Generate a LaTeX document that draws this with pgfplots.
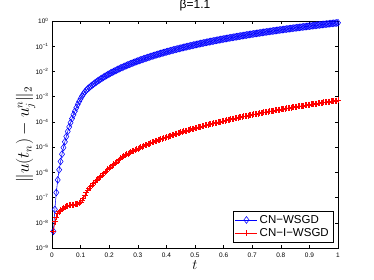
\documentclass[border=0pt]{standalone}
\usepackage{fontspec}
\setmainfont{Liberation Sans}
\usepackage{pgfplots}
\pgfplotsset{compat=1.18}
\definecolor{mblue}{RGB}{0,0,255}
\definecolor{mred}{RGB}{255,0,0}
\begin{document}
\begin{tikzpicture}[x=1pt,y=1pt]
\useasboundingbox (-52,-32) rectangle (322,248);
\begin{axis}[
  at={(0,0)}, anchor=south west,
  width=286pt, height=227pt, scale only axis,
  xmin=0, xmax=1, ymode=log, ymin=1e-9, ymax=1,
  xtick={0,0.1,0.2,0.3,0.4,0.5,0.6,0.7,0.8,0.9,1},
  xticklabels={0,0.1,0.2,0.3,0.4,0.5,0.6,0.7,0.8,0.9,1},
  ytick={1e-9,1e-8,1e-7,1e-6,1e-5,1e-4,1e-3,1e-2,1e-1,1},
  yticklabels={10\textsuperscript{−9},10\textsuperscript{−8},10\textsuperscript{−7},10\textsuperscript{−6},10\textsuperscript{−5},10\textsuperscript{−4},10\textsuperscript{−3},10\textsuperscript{−2},10\textsuperscript{−1},10\textsuperscript{0}},
  yminorticks=false,
  tick align=inside,
  major tick length=3pt,
  tick style={black, line width=0.4pt},
  axis line style={line width=0.5pt},
  tick label style={font=\fontsize{6.5}{7}\selectfont},
  xticklabel style={yshift=-1pt},
  title={β=1.1},
  title style={font=\fontsize{12}{13}\selectfont, at={(axis description cs:0.5,1)}, anchor=base, yshift=6.5pt, inner sep=0pt},
  xlabel={$t$},
  xlabel style={font=\fontsize{14}{15}\selectfont, at={(axis description cs:0.5,0)}, anchor=center, yshift=-17.5pt, inner sep=0pt},
  ylabel={$\|u(t_n)-u_j^n\|_2$},
  ylabel style={font=\fontsize{16}{18}\selectfont, at={(axis description cs:-0.092,0.5)}, anchor=center},
  legend style={at={(axis description cs:1,0)}, anchor=south east, xshift=-5pt, yshift=6pt,
    font=\fontsize{11.5}{13}\selectfont, draw=black, line width=0.5pt, fill=white,
    inner xsep=2pt, inner ysep=1.5pt, row sep=0pt, cells={anchor=west}},
  legend image code/.code={\draw[mark repeat=2,mark phase=2] plot coordinates {(0pt,0pt) (11pt,0pt) (22pt,0pt)};},
]
\addplot[color=mblue, line width=0.55pt, mark=diamond, mark size=3.4pt, mark options={solid, line width=0.55pt, fill=none}] coordinates {
(0.005,4.57e-9)(0.01,3.39e-8)(0.015,1.58e-7)(0.02,5.01e-7)(0.025,1.26e-6)(0.03,2.69e-6)(0.035,5.25e-6)(0.04,9.55e-6)(0.045,1.62e-5)(0.05,2.63e-5)
(0.055,4.17e-5)(0.06,6.31e-5)(0.065,9.33e-5)(0.07,1.35e-4)(0.075,1.91e-4)(0.08,2.63e-4)(0.085,3.63e-4)(0.09,4.90e-4)(0.095,6.46e-4)(0.1,8.32e-4)
(0.105,1.05e-3)(0.11,1.29e-3)(0.115,1.55e-3)(0.12,1.80e-3)(0.125,2.05e-3)(0.13,2.29e-3)(0.135,2.56e-3)(0.14,2.84e-3)(0.145,3.15e-3)(0.15,3.48e-3)
(0.155,3.82e-3)(0.16,4.19e-3)(0.165,4.58e-3)(0.17,4.99e-3)(0.175,5.43e-3)(0.18,5.89e-3)(0.185,6.38e-3)(0.19,6.90e-3)(0.195,7.43e-3)(0.2,8.00e-3)
(0.205,8.60e-3)(0.21,9.20e-3)(0.215,9.86e-3)(0.22,1.05e-2)(0.225,1.126e-2)(0.23,1.20e-2)(0.235,1.277e-2)(0.24,1.36e-2)(0.245,1.441e-2)(0.25,1.53e-2)
(0.255,1.617e-2)(0.26,1.71e-2)(0.265,1.808e-2)(0.27,1.91e-2)(0.275,2.014e-2)(0.28,2.12e-2)(0.285,2.234e-2)(0.29,2.35e-2)(0.295,2.469e-2)(0.30,2.59e-2)
(0.305,2.720e-2)(0.31,2.85e-2)(0.315,2.987e-2)(0.32,3.13e-2)(0.325,3.269e-2)(0.33,3.42e-2)(0.335,3.568e-2)(0.34,3.72e-2)(0.345,3.887e-2)(0.35,4.06e-2)
(0.355,4.223e-2)(0.36,4.40e-2)(0.365,4.578e-2)(0.37,4.76e-2)(0.375,4.950e-2)(0.38,5.14e-2)(0.385,5.344e-2)(0.39,5.55e-2)(0.395,5.756e-2)(0.40,5.97e-2)
(0.405,6.190e-2)(0.41,6.41e-2)(0.415,6.640e-2)(0.42,6.87e-2)(0.425,7.119e-2)(0.43,7.36e-2)(0.435,7.612e-2)(0.44,7.87e-2)(0.445,8.135e-2)(0.45,8.40e-2)
(0.455,8.674e-2)(0.46,8.95e-2)(0.465,9.241e-2)(0.47,9.53e-2)(0.475,9.826e-2)(0.48,0.1012)(0.485,0.1043)(0.49,0.1076)(0.495,0.1107)(0.50,0.1140)
(0.505,0.1174)(0.51,0.1208)(0.515,0.1242)(0.52,0.1276)(0.525,0.1314)(0.53,0.1349)(0.535,0.1388)(0.54,0.1426)(0.545,0.1464)(0.55,0.1503)
(0.555,0.1543)(0.56,0.1585)(0.565,0.1625)(0.57,0.1667)(0.575,0.1711)(0.58,0.1754)(0.585,0.1798)(0.59,0.1845)(0.595,0.1888)(0.60,0.1936)
(0.605,0.1982)(0.61,0.2028)(0.615,0.2078)(0.62,0.2128)(0.625,0.2178)(0.63,0.2228)(0.635,0.2281)(0.64,0.2333)(0.645,0.2387)(0.65,0.2438)
(0.655,0.2495)(0.66,0.2553)(0.665,0.2607)(0.67,0.2667)(0.675,0.2723)(0.68,0.2780)(0.685,0.2842)(0.69,0.2904)(0.695,0.2964)(0.70,0.3027)
(0.705,0.3089)(0.71,0.3155)(0.715,0.3217)(0.72,0.3281)(0.725,0.3349)(0.73,0.3420)(0.735,0.3486)(0.74,0.3556)(0.745,0.3626)(0.75,0.3698)
(0.755,0.3766)(0.76,0.3837)(0.765,0.3914)(0.77,0.3990)(0.775,0.4064)(0.78,0.4140)(0.785,0.4219)(0.79,0.4295)(0.795,0.4378)(0.80,0.4457)
(0.805,0.4538)(0.81,0.4624)(0.815,0.4705)(0.82,0.4786)(0.825,0.4874)(0.83,0.4955)(0.835,0.5046)(0.84,0.5129)(0.845,0.5224)(0.85,0.5309)
(0.855,0.5405)(0.86,0.5495)(0.865,0.5589)(0.87,0.5689)(0.875,0.5779)(0.88,0.5875)(0.885,0.5970)(0.89,0.6067)(0.895,0.6169)(0.90,0.6266)
(0.905,0.6369)(0.91,0.6471)(0.915,0.6578)(0.92,0.6683)(0.925,0.6787)(0.93,0.6902)(0.935,0.7003)(0.94,0.7112)(0.945,0.7222)(0.95,0.7328)
(0.955,0.7447)(0.96,0.7568)(0.965,0.7674)(0.97,0.7798)(0.975,0.7909)(0.98,0.8017)(0.985,0.8144)(0.99,0.8260)(0.995,0.8386)(1.00,0.8511)
};
\addlegendentry{CN−WSGD}
\addplot[color=mred, line width=0.55pt, mark=+, mark size=3pt, mark options={solid, line width=0.55pt}] coordinates {
(0.005,4.57e-9)(0.01,1.10e-8)(0.015,1.70e-8)(0.02,2.29e-8)(0.025,2.75e-8)(0.03,3.16e-8)(0.035,3.55e-8)(0.04,3.89e-8)(0.045,4.17e-8)(0.05,4.47e-8)
(0.055,4.68e-8)(0.06,4.90e-8)(0.065,5.01e-8)(0.07,5.13e-8)(0.075,5.25e-8)(0.08,5.37e-8)(0.085,5.50e-8)(0.09,5.75e-8)(0.095,6.17e-8)(0.1,6.61e-8)
(0.105,7.76e-8)(0.11,9.33e-8)(0.115,1.20e-7)(0.12,1.55e-7)(0.125,1.91e-7)(0.13,2.29e-7)(0.135,2.69e-7)(0.14,3.16e-7)(0.145,3.63e-7)(0.15,4.17e-7)
(0.155,4.79e-7)(0.16,5.37e-7)(0.165,6.17e-7)(0.17,6.92e-7)(0.175,7.94e-7)(0.18,8.91e-7)(0.185,1.02e-6)(0.19,1.15e-6)(0.195,1.32e-6)(0.2,1.48e-6)
(0.205,1.66e-6)(0.21,1.86e-6)(0.215,2.09e-6)(0.22,2.34e-6)(0.225,2.60e-6)(0.23,2.88e-6)(0.235,3.20e-6)(0.24,3.55e-6)(0.245,3.89e-6)(0.25,4.27e-6)
(0.255,4.71e-6)(0.26,5.19e-6)(0.265,5.56e-6)(0.27,5.96e-6)(0.275,6.36e-6)(0.28,6.79e-6)(0.285,7.24e-6)(0.29,7.73e-6)(0.295,8.22e-6)(0.30,8.73e-6)
(0.305,9.28e-6)(0.31,9.86e-6)(0.315,1.044e-5)(0.32,1.107e-5)(0.325,1.171e-5)(0.33,1.239e-5)(0.335,1.307e-5)(0.34,1.380e-5)(0.345,1.455e-5)(0.35,1.535e-5)
(0.355,1.615e-5)(0.36,1.698e-5)(0.365,1.788e-5)(0.37,1.879e-5)(0.375,1.973e-5)(0.38,2.070e-5)(0.385,2.173e-5)(0.39,2.280e-5)(0.395,2.386e-5)(0.40,2.500e-5)
(0.405,2.615e-5)(0.41,2.735e-5)(0.415,2.856e-5)(0.42,2.985e-5)(0.425,3.117e-5)(0.43,3.251e-5)(0.435,3.393e-5)(0.44,3.540e-5)(0.445,3.687e-5)(0.45,3.837e-5)
(0.455,3.996e-5)(0.46,4.159e-5)(0.465,4.329e-5)(0.47,4.498e-5)(0.475,4.677e-5)(0.48,4.853e-5)(0.485,5.044e-5)(0.49,5.236e-5)(0.495,5.436e-5)(0.50,5.636e-5)
(0.505,5.848e-5)(0.51,6.067e-5)(0.515,6.282e-5)(0.52,6.501e-5)(0.525,6.740e-5)(0.53,6.982e-5)(0.535,7.222e-5)(0.54,7.464e-5)(0.545,7.724e-5)(0.55,7.980e-5)
(0.555,8.253e-5)(0.56,8.531e-5)(0.565,8.806e-5)(0.57,9.099e-5)(0.575,9.395e-5)(0.58,9.683e-5)(0.585,1.001e-4)(0.59,1.033e-4)(0.595,1.064e-4)(0.60,1.096e-4)
(0.605,1.131e-4)(0.61,1.164e-4)(0.615,1.201e-4)(0.62,1.236e-4)(0.625,1.274e-4)(0.63,1.309e-4)(0.635,1.350e-4)(0.64,1.390e-4)(0.645,1.429e-4)(0.65,1.469e-4)
(0.655,1.511e-4)(0.66,1.552e-4)(0.665,1.597e-4)(0.67,1.641e-4)(0.675,1.686e-4)(0.68,1.734e-4)(0.685,1.780e-4)(0.69,1.828e-4)(0.695,1.877e-4)(0.70,1.928e-4)
(0.705,1.977e-4)(0.71,2.028e-4)(0.715,2.081e-4)(0.72,2.133e-4)(0.725,2.188e-4)(0.73,2.244e-4)(0.735,2.301e-4)(0.74,2.360e-4)(0.745,2.418e-4)(0.75,2.477e-4)
(0.755,2.537e-4)(0.76,2.600e-4)(0.765,2.664e-4)(0.77,2.729e-4)(0.775,2.792e-4)(0.78,2.858e-4)(0.785,2.927e-4)(0.79,2.992e-4)(0.795,3.066e-4)(0.80,3.133e-4)
(0.805,3.208e-4)(0.81,3.281e-4)(0.815,3.357e-4)(0.82,3.428e-4)(0.825,3.509e-4)(0.83,3.589e-4)(0.835,3.666e-4)(0.84,3.750e-4)(0.845,3.830e-4)(0.85,3.908e-4)
(0.855,3.998e-4)(0.86,4.083e-4)(0.865,4.169e-4)(0.87,4.256e-4)(0.875,4.348e-4)(0.88,4.436e-4)(0.885,4.531e-4)(0.89,4.624e-4)(0.895,4.722e-4)(0.90,4.819e-4)
(0.905,4.916e-4)(0.91,5.012e-4)(0.915,5.118e-4)(0.92,5.224e-4)(0.925,5.325e-4)(0.93,5.433e-4)(0.935,5.539e-4)(0.94,5.649e-4)(0.945,5.757e-4)(0.95,5.875e-4)
(0.955,5.984e-4)(0.96,6.095e-4)(0.965,6.214e-4)(0.97,6.339e-4)(0.975,6.453e-4)(0.98,6.577e-4)(0.985,6.696e-4)(0.99,6.823e-4)(0.995,6.950e-4)(1.00,7.079e-4)
};
\addlegendentry{CN−I−WSGD}
\end{axis}
\end{tikzpicture}
\end{document}
